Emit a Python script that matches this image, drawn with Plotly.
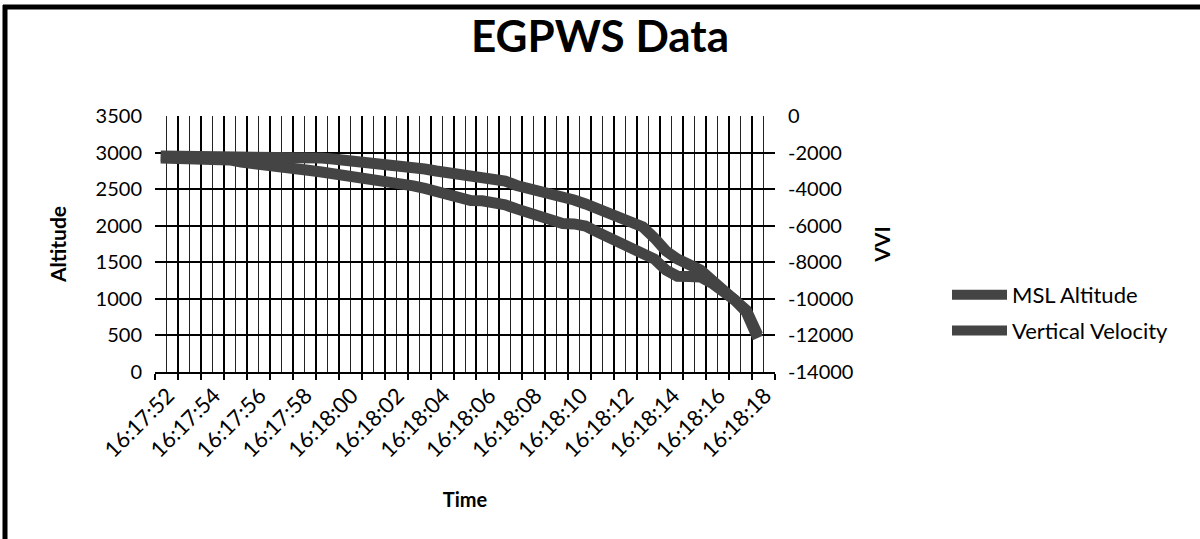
import plotly.graph_objects as go

# ---- data ----
tick_labels = ["16:17:52", "16:17:54", "16:17:56", "16:17:58", "16:18:00", "16:18:02",
               "16:18:04", "16:18:06", "16:18:08", "16:18:10", "16:18:12", "16:18:14",
               "16:18:16", "16:18:18"]
n_categories = 54          # samples every 0.5 s

msl_altitude = [2925, 2925, 2925, 2920, 2920, 2910, 2900, 2870, 2845, 2825,
                2810, 2790, 2775, 2755, 2735, 2715, 2695, 2675, 2650, 2625,
                2600, 2570, 2545, 2510, 2470, 2420, 2365, 2345, 2340, 2325,
                2285, 2230, 2175, 2120, 2065, 2030, 2025, 1995, 1915, 1845,
                1790, 1725, 1640, 1545, 1395, 1310, 1305, 1300, 1215, 1105,
                985, 820, 465]

vertical_velocity = [-2190, -2190, -2190, -2160, -2160, -2160, -2160, -2160, -2190, -2190,
                     -2215, -2240, -2240, -2270, -2295, -2350, -2405, -2460, -2515, -2570,
                     -2625, -2705, -2790, -2900, -3010, -3115, -3225, -3280, -3335, -3420,
                     -3555, -3800, -3940, -4075, -4210, -4400, -4595, -4810, -5030, -5250,
                     -5470, -5740, -6070, -6670, -7380, -7820, -8095, -8420, -8970, -9460,
                     -9950, -10610, -11975]

altitude_ticks = [0, 500, 1000, 1500, 2000, 2500, 3000, 3500]
vvi_ticks = [-14000, -12000, -10000, -8000, -6000, -4000, -2000, 0]

x_idx = list(range(len(msl_altitude)))

FONT = "Lato"
LINE_COLOR = "#444444"

fig = go.Figure()
fig.add_trace(go.Scatter(x=x_idx, y=msl_altitude, name="MSL Altitude", mode="lines",
                         line=dict(color=LINE_COLOR, width=11), legendgroup="a"))
fig.add_trace(go.Scatter(x=x_idx, y=vertical_velocity, name="Vertical Velocity", mode="lines",
                         line=dict(color=LINE_COLOR, width=11), yaxis="y2", legendgroup="b"))

# ticks at every second category boundary, labels every fourth
tickvals = [-0.5 + 2 * k for k in range(n_categories // 2 + 1)]
ticktext = []
for k, v in enumerate(tickvals):
    if k % 2 == 0 and k // 2 < len(tick_labels):
        ticktext.append(tick_labels[k // 2])
    else:
        ticktext.append("")

L, R, T, B = 155, 775, 116, 372
W, H = 1200, 539

def xp(px):
    return (px - L) / (R - L)

def yp(py):
    return (B - py) / (B - T)

fig.update_layout(
    width=W, height=H,
    margin=dict(l=L, r=W - R, t=T, b=H - B),
    paper_bgcolor="white", plot_bgcolor="white",
    font=dict(family=FONT, color="black", size=19),
    title=dict(text="<b>EGPWS Data</b>", x=0.5, xref="container", xanchor="center",
               y=1 - 37 / H, yref="container", yanchor="middle",
               font=dict(family=FONT, size=44, color="black")),
    xaxis=dict(range=[-0.5, n_categories - 0.5], tickmode="array", tickvals=tickvals,
               ticktext=ticktext, tickangle=-45, ticks="outside", ticklen=6,
               tickcolor="black", tickwidth=1.5, ticklabelshift=13, ticklabelstandoff=-6,
               showgrid=True, gridcolor="black", gridwidth=1.5,
               minor=dict(tick0=-0.5, dtick=1, showgrid=True, gridcolor="#222222",
                          gridwidth=1, ticks=""),
               showline=True, linecolor="black", linewidth=2, zeroline=False,
               title=dict(text="<b>Time</b>", font=dict(size=20), standoff=31),
               automargin=False, tickfont=dict(size=22)),
    yaxis=dict(range=[0, 3500], tickmode="array", tickvals=altitude_ticks,
               ticktext=[str(v) for v in altitude_ticks],
               showgrid=True, gridcolor="black", gridwidth=2,
               zeroline=False, ticks="", ticklabelstandoff=12,
               title=dict(text="<b>Altitude</b>", font=dict(size=21), standoff=23),
               automargin=False, tickfont=dict(size=20)),
    yaxis2=dict(range=[-14000, 0], tickmode="array", tickvals=vvi_ticks,
                ticktext=[str(v) for v in vvi_ticks], overlaying="y", side="right",
                showgrid=False, zeroline=False, ticks="", ticklabelstandoff=12,
                title=dict(text="<b>VVI</b>", font=dict(size=21), standoff=22),
                automargin=False, tickfont=dict(size=20)),
    legend=dict(x=xp(947), y=yp(274), xanchor="left", yanchor="top",
                bgcolor="rgba(0,0,0,0)", font=dict(size=22), itemwidth=55,
                traceorder="grouped", tracegroupgap=4),
    showlegend=True,
)

# outer frame of the chart (top and left edges)
fig.add_shape(type="line", xref="paper", yref="paper", x0=xp(3), x1=xp(1205),
              y0=yp(7), y1=yp(7), line=dict(color="black", width=5))
fig.add_shape(type="line", xref="paper", yref="paper", x0=xp(5), x1=xp(5),
              y0=yp(5), y1=yp(545), line=dict(color="black", width=5))

# remove the default page margin so the figure sits at the window origin
fig.write_html("out.html", config={"displayModeBar": False},
               post_script="document.body.style.margin='0';")
